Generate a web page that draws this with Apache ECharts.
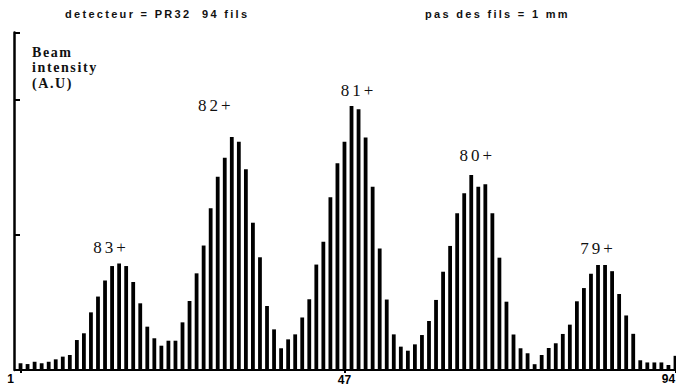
<!DOCTYPE html>
<html><head><meta charset="utf-8">
<script src="https://cdn.jsdelivr.net/npm/echarts@6/dist/echarts.min.js"></script>
<style>
html,body{margin:0;padding:0;background:#fff}
#c{width:676px;height:387px}
text[style*="Arial"]{letter-spacing:2.3px}
text[style*="Times New Roman"]{letter-spacing:1.6px}
text[style*="Liberation Serif"]{letter-spacing:3px}
</style></head><body><div id="c"></div>
<script>
// wire numbers (categories)
const wires = ['1','2','3','4','5','6','7','8','9','10','11','12','13','14','15','16','17','18','19','20',
'21','22','23','24','25','26','27','28','29','30','31','32','33','34','35','36','37','38','39','40',
'41','42','43','44','45','46','47','48','49','50','51','52','53','54','55','56','57','58','59','60',
'61','62','63','64','65','66','67','68','69','70','71','72','73','74','75','76','77','78','79','80',
'81','82','83','84','85','86','87','88','89','90','91','92','93','94'];
// beam intensity per wire (A.U)
const intensity = [5.0,4.4,6.1,5.0,6.1,7.9,9.9,11.1,22.2,27.2,
42.7,54.4,66.3,77.0,78.9,77.0,65.2,49.4,32.1,23.5,
18.0,21.7,21.7,35.3,51.1,71.6,92.2,119.8,143.2,157.3,
172.6,169.1,148.7,109.1,83.5,47.4,30.1,16.1,22.7,26.4,
38.9,52.4,78.1,95.0,127.9,153.1,169.1,195.6,193.1,172.2,
135.8,90.0,52.2,26.4,17.3,14.3,19.0,25.9,36.3,51.9,
72.8,91.9,116.1,130.9,144.4,135.8,137.6,116.1,83.2,50.6,
26.3,16.1,12.4,4.3,11.1,16.3,19.8,26.7,33.6,50.9,
60.7,71.3,77.8,77.8,73.2,56.3,40.4,26.8,7.2,5.6,
5.6,5.6,3.7,10.5];
// charge-state peaks
const peakWires = ['15','31','48','65','83'];
const peakLabels = ['83+','82+','81+','80+','79+'];
// x tick labels shown
const xTickLabels = ['1','47','94'];
const headerLeft = 'detecteur = PR32  94 fils';
const headerRight = 'pas des fils = 1 mm';
const yName = 'Beam\nintensity\n(A.U)';

// label offsets (styling)
const peakOffsets = [[-8,-2],[-16,-18],[7,-2],[6,-6],[0,-3]];

const seriesData = intensity.map((v, i) => {
  const k = peakWires.indexOf(wires[i]);
  if (k < 0) return v;
  return {
    value: v,
    label: {
      show: true, position: 'top', distance: 5,
      formatter: peakLabels[k], offset: peakOffsets[k],
      fontFamily: 'Liberation Serif', fontSize: 17, color: '#111'
    }
  };
});

const tickFont = {fontFamily: 'Liberation Sans', fontSize: 12, fontWeight: 'bold', color: '#000'};

const chart = echarts.init(document.getElementById('c'), null, {renderer: 'svg'});
chart.setOption({
  animation: false,
  backgroundColor: '#fff',
  title: [
    {text: headerLeft, left: 60, top: 3, textStyle: {fontFamily: 'Arial', fontSize: 11, fontWeight: 'bold', color: '#111'}},
    {text: headerRight, left: 420, top: 3, textStyle: {fontFamily: 'Arial', fontSize: 11, fontWeight: 'bold', color: '#111'}}
  ],
  grid: {left: 17, right: -3, top: 32.5, bottom: 17, outerBoundsMode: 'none', containLabel: false},
  xAxis: {
    type: 'category', data: wires, boundaryGap: true,
    axisLine: {lineStyle: {color: '#000', width: 2}},
    axisTick: {show: true, alignWithLabel: true, interval: (i, v) => xTickLabels.includes(v), length: 3, lineStyle: {color: '#000', width: 2}},
    axisLabel: Object.assign({
      interval: (i, v) => xTickLabels.includes(v), margin: 3, hideOverlap: false,
      formatter: v => v === '1' ? '{a|1}' : (v === '47' ? '{b|47}' : (v === '94' ? '{c|94}' : v)),
      rich: {
        a: Object.assign({padding: [0, 20, 0, 0]}, tickFont),
        b: Object.assign({padding: [1, 0, 0, 0]}, tickFont),
        c: Object.assign({padding: [0, 14, 0, 0]}, tickFont)
      }
    }, tickFont),
    splitLine: {show: false}
  },
  yAxis: {
    type: 'value', min: 0, max: 250, interval: 100, offset: 3,
    axisLine: {show: true, lineStyle: {color: '#000', width: 2.5}},
    axisTick: {show: true, inside: true, length: 6, lineStyle: {color: '#000', width: 2}},
    axisLabel: {show: false},
    splitLine: {show: false},
    name: yName, nameLocation: 'end', nameGap: -12,
    nameTextStyle: {align: 'left', verticalAlign: 'top', padding: [0, 0, 0, 18], lineHeight: 15.5,
      fontFamily: 'Times New Roman', fontSize: 14, fontWeight: 'bold', color: '#111'}
  },
  series: [{
    type: 'bar', data: seriesData, barWidth: 3.8,
    itemStyle: {color: '#000'},
    emphasis: {disabled: true}
  }]
});
</script></body></html>
